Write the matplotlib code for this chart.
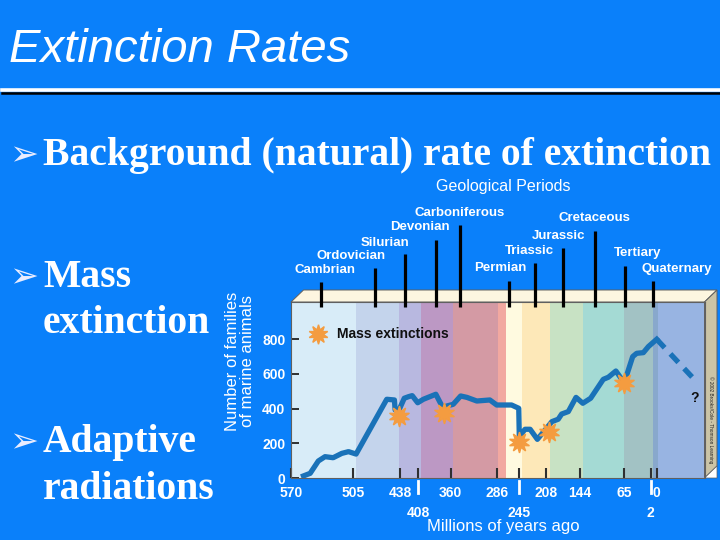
import numpy as np
import matplotlib.pyplot as plt
from matplotlib.patches import Polygon
from matplotlib.transforms import blended_transform_factory

# ---- data ----
ages = [557, 550, 541.5, 534.5, 526, 517, 510, 501,
        457, 446, 445, 439, 431, 424, 418, 409,
        400.5, 382, 372, 366, 356, 344, 334, 318,
        297, 286, 259, 246, 245, 237, 230, 220,
        207, 197, 185, 178.5, 166, 151.5, 139, 125,
        102.5, 93.5, 80, 69.5, 63, 45, 35.5, 19.5,
        7.5, 0]
families = [12, 27, 98, 123, 117, 142, 152, 138,
            454, 450, 392, 396, 460, 469, 475, 434,
            454, 483, 408, 415, 425, 473, 465, 444,
            450, 421, 421, 402, 240, 281, 281, 223,
            287, 325, 339, 369, 383, 465, 431, 460,
            569, 581, 617, 569, 565, 700, 719, 723,
            758, 800]
proj_ages = [0, -16.6]
proj_families = [800, 556]

star_ages = [440, 369.5, 245, 202, 65]
star_families = [358, 377, 210, 267, 550]

periods = ['Cambrian', 'Ordovician', 'Silurian', 'Devonian', 'Carboniferous',
           'Permian', 'Triassic', 'Jurassic', 'Cretaceous', 'Tertiary', 'Quaternary']
period_mid = [539, 474, 429, 382, 345, 263, 223, 175.5, 117, 63.3, 1.3]

band_edges = [570, 501, 439, 404, 356, 284, 269, 241, 200.5, 138.7, 65.5, 1.2, -0.5, -20]
band_colors = ['#d8ecf8', '#c4d4ec', '#b8b8e0', '#bc98c4', '#d49aa4', '#f2a8a0',
               '#fffae0', '#fde8b8', '#c8e2c4', '#a4dad4', '#a2c2c4', '#88a8cc', '#98b4e2']

xticks_top = [570, 505, 438, 360, 286, 208, 144, 65, 0]
xticks_low = [408, 245, 2]
yticks = [0, 200, 400, 600, 800]

# ---- layout ----
W, H = 720, 540
BLUE = '#0a80fa'
LINE = '#1a72b8'
STAR = '#f49c40'
SANS = 'Liberation Sans'
SERIF = 'Liberation Serif'

# the slide's time axis is not to scale: piecewise mapping age -> pixel
scale_ages = [-20, 0, 2, 65, 144, 208, 245, 286, 360, 408, 438, 505, 570]
scale_px = [704.5, 656.7, 650.7, 624.3, 580, 546, 519.3, 496.7, 450.7, 418.3, 400, 353.3, 291]


def fwd(a):
    return -np.interp(a, scale_ages, scale_px)


def inv(v):
    return np.interp(-np.asarray(v), scale_px[::-1], scale_ages[::-1])


def fx(px):
    return px / W


def fy(py):
    return 1 - py / H


fig = plt.figure(figsize=(7.2, 5.4), dpi=100, facecolor=BLUE)

# title + rule
fig.text(fx(9), fy(62), 'Extinction Rates', family=SANS, style='italic',
         fontsize=34, color='white', va='baseline')
fig.add_artist(plt.Line2D([fx(2), 1], [fy(90), fy(90)], color='white', lw=2.6))
fig.add_artist(plt.Line2D([fx(2), 1], [fy(93.2), fy(93.2)], color='black', lw=1.8))

# bullets
bullets = [(165, 'Background (natural) rate of extinction'),
           (287, 'Mass'), (333, 'extinction'),
           (452, 'Adaptive'), (499, 'radiations')]
for by, txt in bullets:
    fig.text(fx(43), fy(by), txt, family=SERIF, weight='bold', fontsize=28.5,
             color='white', va='baseline')
for by in [165, 287, 452]:
    fig.text(fx(9), fy(by), '\u27a2', family='DejaVu Sans', fontsize=25,
             color='#e8ecff', va='baseline')

# chart
L, R, T, B = 291, 704.5, 302, 478
ax = fig.add_axes([fx(L), fy(B), (R - L) / W, (B - T) / H])
ax.set_xscale('function', functions=(fwd, inv))
ax.set_xlim(570, -20)
ax.set_ylim(0, 1015)

for a0, a1, c in zip(band_edges[:-1], band_edges[1:], band_colors):
    ax.axvspan(a1, a0, color=c, lw=0, zorder=0)

ax.plot(ages, families, color=LINE, lw=3.8, solid_joinstyle='round', zorder=3)
ax.plot(proj_ages, proj_families, color=LINE, lw=3.8, dashes=(2.2, 1.6), zorder=3)
ax.plot(star_ages, star_families, ls='none', marker=(10, 1, 0), ms=15,
        color=STAR, mec=STAR, zorder=4)

ax.plot([0.065], [0.818], transform=ax.transAxes, marker=(10, 1, 0), ms=14,
        color=STAR, zorder=4)
ax.text(0.111, 0.818, 'Mass extinctions', transform=ax.transAxes, family=SANS,
        weight='bold', fontsize=10, color='#101010', va='center')
ax.text(0.977, 0.455, '?', transform=ax.transAxes, family=SANS, weight='bold',
        fontsize=10, color='#101010', ha='center', va='center')

for s in ax.spines.values():
    s.set_color('#606060')
    s.set_linewidth(0.8)

ax.set_yticks(yticks, [str(v) for v in yticks], family=SANS, weight='bold')
ax.tick_params(axis='y', direction='in', length=6, width=1.4, color='#303030',
               labelcolor='white', labelsize=10, pad=4)
ax.set_xticks(xticks_top, [str(v) for v in xticks_top], family=SANS, weight='bold')
ax.set_xticks(xticks_low, [str(v) for v in xticks_low], minor=True, family=SANS,
              weight='bold')
ax.tick_params(axis='x', which='both', direction='in', length=7, width=1.5,
               color='#303030', labelcolor='white', labelsize=10)
ax.tick_params(axis='x', which='major', pad=6)
ax.tick_params(axis='x', which='minor', pad=20)

trans = blended_transform_factory(ax.transData, ax.transAxes)
for a in xticks_low:
    ax.plot([a, a], [-0.017, -0.085], transform=trans, color='white', lw=2,
            clip_on=False)

# 3D box faces
dx, dy = 12.5 / (R - L), 12 / (B - T)
ax.add_patch(Polygon([(0, 1), (1, 1), (1 + dx, 1 + dy), (dx, 1 + dy)], closed=True,
                     transform=ax.transAxes, clip_on=False, fc='#fdf6e0',
                     ec='#606060', lw=0.7, zorder=1))
ax.add_patch(Polygon([(1, 0), (1, 1), (1 + dx, 1 + dy), (1 + dx, dy)], closed=True,
                     transform=ax.transAxes, clip_on=False, fc='#cbc4a6',
                     ec='#606060', lw=0.7, zorder=1))
ax.add_patch(Polygon([(1, 0), (1 + dx, dy), (1 + dx, 0)], closed=True,
                     transform=ax.transAxes, clip_on=False, fc='white',
                     ec='#606060', lw=0.5, zorder=1))
ax.text(1 + dx / 2, 0.33, '\u00a9 2002 Brooks/Cole - Thomson Learning',
        transform=ax.transAxes, rotation=-90, fontsize=3.4, color='#202020',
        ha='center', va='center', family=SANS)

# period pointers and labels
pointer_top = [282, 268, 254, 240, 225, 281, 263, 248, 231, 266, 281]
label_pos = [(325, 270), (351, 256), (385, 243), (420, 227), (460, 213),
             (500, 268), (529, 251), (559, 236), (594.5, 218), (637.5, 253),
             (677, 269)]
for m, top, name, (lx, ly) in zip(period_mid, pointer_top, periods, label_pos):
    ax.plot([m, m], [(B - 307) / (B - T), (B - top) / (B - T)], transform=trans,
            color='black', lw=2.3, clip_on=False, zorder=6, solid_capstyle='butt')
    fig.text(fx(lx), fy(ly), name, family=SANS, weight='bold', fontsize=9.5,
             color='white', ha='center', va='center')

fig.text(fx(503), fy(186), 'Geological Periods', family=SANS, fontsize=11.5,
         color='white', ha='center', va='center')
fig.text(fx(503), fy(527), 'Millions of years ago', family=SANS, fontsize=12,
         color='white', ha='center', va='center')
fig.text(fx(240), fy(361), 'Number of families\nof marine animals', family=SANS,
         fontsize=12, color='white', rotation=90, ha='center', va='center',
         linespacing=1.0)

fig.savefig('out.png', dpi=100, facecolor=BLUE)
